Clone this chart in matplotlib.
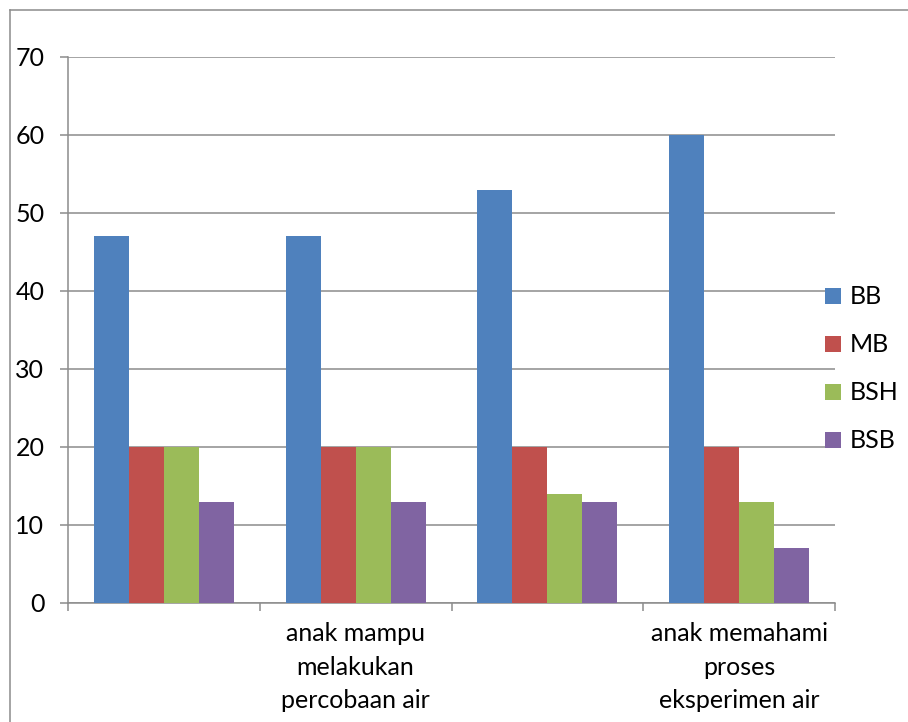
import matplotlib
matplotlib.use("Agg")
import matplotlib.pyplot as plt
from matplotlib.lines import Line2D
import numpy as np

categories = ["", "anak mampu\nmelakukan\npercobaan air", "", "anak memahami\nproses\neksperimen air"]
series_names = ["BB", "MB", "BSH", "BSB"]
BB = [47, 47, 53, 60]
MB = [20, 20, 20, 20]
BSH = [20, 20, 14, 13]
BSB = [13, 13, 13, 7]
series = [BB, MB, BSH, BSB]
colors = ["#4F81BD", "#C0504D", "#9BBB59", "#8064A2"]
y_ticks = [0, 10, 20, 30, 40, 50, 60, 70]

plt.rcParams['font.family'] = ['Lato', 'DejaVu Sans']
W, H = 908, 722
fig = plt.figure(figsize=(W/100, H/100), dpi=100)
ax = fig.add_axes([68/W, 1-603/H, (835-68)/W, (603-57)/H])

x = np.arange(len(categories))
bw = 0.1825
for i, (vals, c, name) in enumerate(zip(series, colors, series_names)):
    ax.bar(x + (i - 1.5) * bw, vals, width=bw, color=c, label=name, zorder=3, linewidth=0)

ax.set_xlim(-0.5, len(categories) - 0.5)
ax.set_ylim(0, 70)
ax.set_yticks(y_ticks)
ax.set_yticklabels([str(t) for t in y_ticks], fontsize=18, color="#000000")
ax.yaxis.grid(True, color="#8C8C8C", linewidth=1.1, zorder=0)
ax.tick_params(axis='y', length=6, width=1.1, color="#8C8C8C", pad=11)

ax.set_xticks(x)
ax.set_xticklabels(categories, fontsize=18, linespacing=1.55, color="#000000")
ax.set_xticks(np.arange(len(categories) + 1) - 0.5, minor=True)
ax.tick_params(axis='x', which='major', length=0, pad=14)
ax.tick_params(axis='x', which='minor', length=6, width=1.1, color="#8C8C8C")

for s in ["top", "right"]:
    ax.spines[s].set_visible(False)
for s in ["left", "bottom"]:
    ax.spines[s].set_color("#8C8C8C")
    ax.spines[s].set_linewidth(1.1)

leg = fig.legend(loc="center left", bbox_to_anchor=(825/W, 1-369/H), frameon=False,
                 fontsize=18, handlelength=0.62, handleheight=0.62, handletextpad=0.35,
                 labelspacing=1.0, borderpad=0, borderaxespad=0)

fig.add_artist(Line2D([10/W, 10/W], [0, 1-10/H], color="#8C8C8C", linewidth=1.1, transform=fig.transFigure))
fig.add_artist(Line2D([10/W, 1], [1-10/H, 1-10/H], color="#8C8C8C", linewidth=1.1, transform=fig.transFigure))

fig.savefig("out.png", dpi=100)
